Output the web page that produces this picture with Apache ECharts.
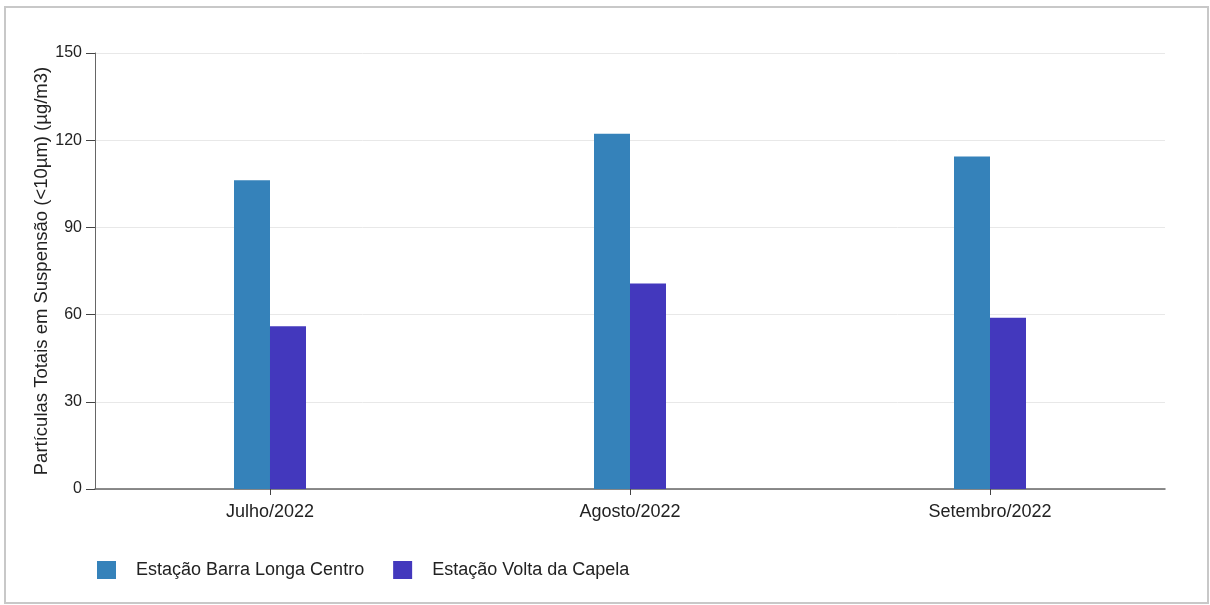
<!DOCTYPE html>
<html>
<head>
<meta charset="utf-8">
<script src="https://cdn.jsdelivr.net/npm/echarts@6/dist/echarts.min.js"></script>
<style>
html,body{margin:0;padding:0;background:#fff;}
#chart{width:1210px;height:605px;}
</style>
</head>
<body>
<div id="chart"></div>
<script>
const categories = ['Julho/2022', 'Agosto/2022', 'Setembro/2022'];
const seriesNames = ['Estação Barra Longa Centro', 'Estação Volta da Capela'];
const barraLonga = [106.2, 122.2, 114.4];
const voltaCapela = [56.0, 70.7, 58.9];
const yTicks = [0, 30, 60, 90, 120, 150];
const yTitle = 'Partículas Totais em Suspensão (<10µm) (µg/m3)';

const font = 'Liberation Sans, Arial, sans-serif';
const catIdx = categories.map((c, i) => i);
const toPairs = arr => arr.map((v, i) => [i, v]);

const chart = echarts.init(document.getElementById('chart'), null, {renderer: 'canvas'});
chart.setOption({
  animation: false,
  backgroundColor: '#fff',
  color: ['#3582BA', '#4338BD'],
  graphic: [{
    type: 'rect', z: 100, silent: true,
    shape: {x: 5, y: 7, width: 1203, height: 596},
    style: {fill: 'none', stroke: '#c8c8c8', lineWidth: 2}
  }],
  grid: {left: 95, right: 45, top: 53, bottom: 116, containLabel: false},
  legend: {
    left: 92, top: 556,
    itemWidth: 19, itemHeight: 18, itemGap: 29,
    icon: 'rect',
    textStyle: {fontFamily: font, fontSize: 18, color: '#222', padding: [0, 0, 0, 15]},
    data: seriesNames
  },
  xAxis: {
    type: 'value',
    min: -0.4861, max: 2.4861,
    axisLine: {show: true, onZero: false, lineStyle: {color: '#666', width: 1.5}},
    axisTick: {show: true, length: 6, customValues: catIdx, lineStyle: {color: '#444'}},
    axisLabel: {
      fontFamily: font, fontSize: 18, color: '#222', margin: 14,
      customValues: catIdx,
      formatter: v => categories[Math.round(v)]
    },
    splitLine: {show: false}
  },
  yAxis: {
    type: 'value',
    min: yTicks[0], max: yTicks[yTicks.length - 1], interval: 30,
    name: yTitle,
    nameLocation: 'middle',
    nameGap: 44,
    nameMoveOverlap: false,
    nameTextStyle: {fontFamily: font, fontSize: 18.5, color: '#222'},
    axisLine: {show: true, onZero: false, lineStyle: {color: '#666', width: 1}},
    axisTick: {show: true, length: 9, lineStyle: {color: '#444'}},
    axisLabel: {fontFamily: font, fontSize: 16, color: '#222', margin: 13},
    splitLine: {lineStyle: {color: '#e8e8e8', width: 1}}
  },
  series: [
    {name: seriesNames[0], type: 'bar', data: toPairs(barraLonga), barWidth: 36, barGap: '0%'},
    {name: seriesNames[1], type: 'bar', data: toPairs(voltaCapela), barWidth: 36, barGap: '0%'}
  ]
});
</script>
</body>
</html>
